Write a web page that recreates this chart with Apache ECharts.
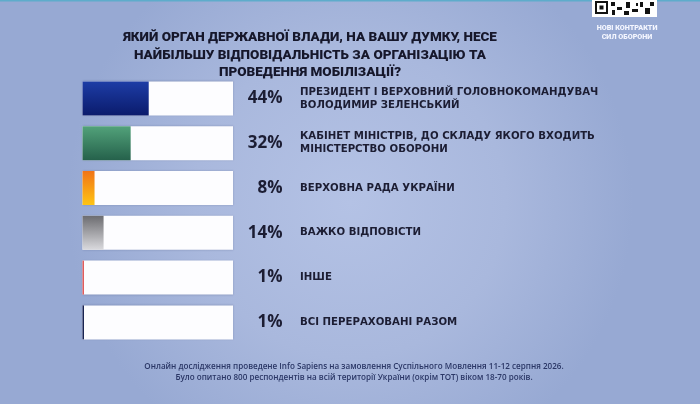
<!DOCTYPE html>
<html>
<head>
<meta charset="UTF-8">
<title>Мобілізація</title>
<style>
  html, body { margin: 0; padding: 0; }
  #main { width: 700px; height: 404px; }
</style>
</head>
<body>
<div id="main"></div>
<script src="https://cdn.jsdelivr.net/npm/echarts@6/dist/echarts.min.js"></script>
<script>
var categories = [
  'ПРЕЗИДЕНТ І ВЕРХОВНИЙ ГОЛОВНОКОМАНДУВАЧ\nВОЛОДИМИР ЗЕЛЕНСЬКИЙ',
  'КАБІНЕТ МІНІСТРІВ, ДО СКЛАДУ ЯКОГО ВХОДИТЬ\nМІНІСТЕРСТВО ОБОРОНИ',
  'ВЕРХОВНА РАДА УКРАЇНИ',
  'ВАЖКО ВІДПОВІСТИ',
  'ІНШЕ',
  'ВСІ ПЕРЕРАХОВАНІ РАЗОМ'
];
var values = [44, 32, 8, 14, 1, 1];

var titleText = 'ЯКИЙ ОРГАН ДЕРЖАВНОЇ ВЛАДИ, НА ВАШУ ДУМКУ, НЕСЕ\nНАЙБІЛЬШУ ВІДПОВІДАЛЬНІСТЬ ЗА ОРГАНІЗАЦІЮ ТА\nПРОВЕДЕННЯ МОБІЛІЗАЦІЇ?';
var footText = 'Онлайн дослідження проведене Info Sapiens на замовлення Суспільного Мовлення 11-12 серпня 2026.\nБуло опитано 800 респондентів на всій території України (окрім ТОТ) віком 18-70 років.';

// кольори заливки (зверху -> знизу)
var fills = [
  ['#1d3da6', '#0b1b6c'],
  ['#52a27a', '#25614b'],
  ['#f07418', '#ffc414'],
  ['#6c6c70', '#dadade'],
  ['#e25c5c', '#e25c5c'],
  ['#1a2452', '#1a2452']
];

function grad(c) {
  return new echarts.graphic.LinearGradient(0, 0, 0, 1, [
    { offset: 0, color: c[0] },
    { offset: 1, color: c[1] }
  ]);
}

var chart = echarts.init(document.getElementById('main'));

var option = {
  backgroundColor: new echarts.graphic.RadialGradient(0.5, 0.5, 0.7, [
    { offset: 0, color: '#b4c2e5' },
    { offset: 0.55, color: '#a9b8dd' },
    { offset: 1, color: '#97a9d3' }
  ]),
  animation: false,
  title: [{
    text: titleText,
    left: 305,
    top: 24,
    textAlign: 'center',
    textStyle: {
      fontFamily: 'Roboto',
      fontWeight: 900,
      fontSize: 13.5,
      lineHeight: 17.5,
      color: '#16172b'
    }
  }, {
    text: footText,
    left: 349,
    top: 356,
    textAlign: 'center',
    textStyle: {
      fontFamily: 'Open Sans',
      fontWeight: 600,
      fontSize: 8.1,
      lineHeight: 11,
      color: '#2b3766'
    }
  }],
  grid: { left: 82.5, width: 150.5, top: 76, height: 268.8 },
  xAxis: { type: 'value', min: 0, max: 100, show: false },
  yAxis: [{
    type: 'category',
    inverse: true,
    position: 'right',
    data: categories,
    axisLine: { show: false },
    axisTick: { show: false },
    axisLabel: {
      margin: 67,
      fontFamily: 'DejaVu Sans',
      fontWeight: 'bold',
      fontSize: 10.2,
      lineHeight: 13,
      color: '#1c1d33'
    }
  }, {
    type: 'category',
    inverse: true,
    position: 'right',
    data: values.map(function (v) { return v + '%'; }),
    axisLine: { show: false },
    axisTick: { show: false },
    axisLabel: {
      margin: 49.5,
      align: 'right',
      fontFamily: 'Open Sans',
      fontWeight: 700,
      fontSize: 17,
      color: '#1c1d33'
    }
  }],
  series: [{
    type: 'bar',
    yAxisIndex: 0,
    barWidth: 34,
    showBackground: true,
    backgroundStyle: { color: '#fdfdff', shadowBlur: 2, shadowColor: 'rgba(40,50,90,0.25)' },
    data: values.map(function (v, i) {
      return { value: v, itemStyle: { color: grad(fills[i]) } };
    })
  }],
  graphic: [
    { type: 'rect', shape: { x: 0, y: 0, width: 700, height: 1.5 }, style: { fill: '#5eaccb' } },
    { type: 'rect', shape: { x: 592, y: 0, width: 65, height: 17 }, style: { fill: '#ffffff' } },
    { type: 'rect', shape: { x: 596, y: 2, width: 11, height: 11 }, style: { fill: '#ffffff', stroke: '#111', lineWidth: 2 } },
    { type: 'rect', shape: { x: 599.5, y: 5.5, width: 4, height: 4 }, style: { fill: '#111' } },
    { type: 'rect', shape: { x: 611, y: 2, width: 4, height: 4 }, style: { fill: '#111' } },
    { type: 'rect', shape: { x: 617, y: 7, width: 5, height: 3 }, style: { fill: '#111' } },
    { type: 'rect', shape: { x: 612, y: 10, width: 3, height: 5 }, style: { fill: '#111' } },
    { type: 'rect', shape: { x: 626, y: 2, width: 4, height: 6 }, style: { fill: '#111' } },
    { type: 'rect', shape: { x: 632, y: 9, width: 6, height: 3 }, style: { fill: '#111' } },
    { type: 'rect', shape: { x: 640, y: 2, width: 3, height: 5 }, style: { fill: '#111' } },
    { type: 'rect', shape: { x: 645, y: 8, width: 5, height: 6 }, style: { fill: '#111' } },
    { type: 'rect', shape: { x: 624, y: 11, width: 5, height: 4 }, style: { fill: '#111' } },
    { type: 'rect', shape: { x: 636, y: 3, width: 2, height: 3 }, style: { fill: '#111' } },
    { type: 'rect', shape: { x: 650, y: 2, width: 4, height: 4 }, style: { fill: '#111' } },
    {
      type: 'text', x: 627, y: 23,
      style: {
        text: 'НОВІ КОНТРАКТИ\nСИЛ ОБОРОНИ',
        align: 'center',
        fill: '#f4f6ff',
        fontFamily: 'Roboto',
        fontWeight: 900,
        fontSize: 7.2,
        lineHeight: 9.5
      }
    }
  ]
};

chart.setOption(option);
</script>
</body>
</html>
